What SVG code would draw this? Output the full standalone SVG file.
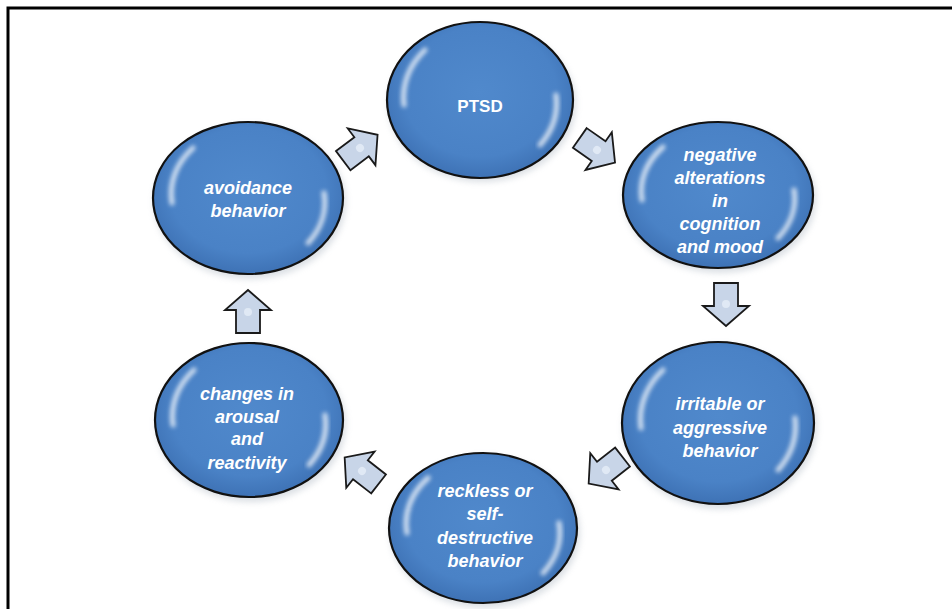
<svg xmlns="http://www.w3.org/2000/svg" width="952" height="609" viewBox="0 0 952 609">
<defs>
<radialGradient id="ball" cx="50%" cy="45%" r="55%">
<stop offset="0" stop-color="#5089cc"/>
<stop offset="0.75" stop-color="#4a82c6"/>
<stop offset="1" stop-color="#3e72b5"/>
</radialGradient>
<filter id="blur" x="-30%" y="-30%" width="160%" height="160%"><feGaussianBlur stdDeviation="2"/></filter>
<filter id="shadow" x="-20%" y="-20%" width="140%" height="140%"><feGaussianBlur stdDeviation="3"/></filter>
<path id="arrow" d="M-21,-12 L2,-12 L2,-23 L22,0 L2,23 L2,12 L-21,12 Z"/>
</defs>
<style>
.frame{stroke:#000;stroke-width:3;fill:none}
.ball{fill:url(#ball);stroke:#111;stroke-width:2.2}
.shade{fill:#9aa6b4;opacity:0.35}
.glint{fill:none;stroke:#ffffff;stroke-width:5;stroke-linecap:round;opacity:0.75}
.lbl{font-family:"Liberation Sans",Arial,sans-serif;font-size:18px;font-weight:bold;font-style:italic;fill:#ffffff;text-anchor:middle}
.ptsd{font-family:"Liberation Sans",Arial,sans-serif;font-size:17px;font-weight:bold;fill:#ffffff;text-anchor:middle}
.arr{fill:#c8d5e8;stroke:#1a1a1a;stroke-width:1.8;stroke-linejoin:miter}
.dot{fill:#e6edf7;opacity:0.8}
</style>
<rect width="952" height="609" fill="#ffffff"/>
<path class="frame" d="M8,609 L8,8 L952,8"/>

<g id="connectors">
<g transform="translate(360,148) rotate(-37)"><use href="#arrow" class="arr"/><circle r="4" class="dot"/></g>
<g transform="translate(597,150) rotate(35)"><use href="#arrow" class="arr"/><circle r="4" class="dot"/></g>
<g transform="translate(726,304) rotate(90)"><use href="#arrow" class="arr"/><circle r="4" class="dot"/></g>
<g transform="translate(606,470) rotate(142)"><use href="#arrow" class="arr"/><circle r="4" class="dot"/></g>
<g transform="translate(362,471) rotate(218)"><use href="#arrow" class="arr"/><circle r="4" class="dot"/></g>
<g transform="translate(248,312) rotate(-90)"><use href="#arrow" class="arr"/><circle r="4" class="dot"/></g>
</g>

<g id="node-ptsd">
<ellipse class="shade" cx="482" cy="104" rx="94" ry="78" filter="url(#shadow)"/>
<ellipse class="ball" cx="480" cy="100" rx="93" ry="78"/>
<path class="glint" filter="url(#blur)" d="M425,50 A82,70 0 0 0 404,105"/>
<path class="glint" filter="url(#blur)" d="M556,95 A82,70 0 0 1 540,145"/>
<text class="ptsd" x="480" y="112">PTSD</text>
</g>

<g id="node-negative">
<ellipse class="shade" cx="720" cy="199" rx="96" ry="74" filter="url(#shadow)"/>
<ellipse class="ball" cx="718" cy="195" rx="95" ry="73"/>
<path class="glint" filter="url(#blur)" d="M663,147 A84,66 0 0 0 642,200"/>
<path class="glint" filter="url(#blur)" d="M794,190 A84,66 0 0 1 778,238"/>
<text class="lbl" x="720" y="161">negative</text>
<text class="lbl" x="720" y="184">alterations</text>
<text class="lbl" x="720" y="207">in</text>
<text class="lbl" x="720" y="230">cognition</text>
<text class="lbl" x="720" y="253">and mood</text>
</g>

<g id="node-irritable">
<ellipse class="shade" cx="720" cy="427" rx="97" ry="82" filter="url(#shadow)"/>
<ellipse class="ball" cx="718" cy="423" rx="96" ry="81"/>
<path class="glint" filter="url(#blur)" d="M663,370 A85,73 0 0 0 641,428"/>
<path class="glint" filter="url(#blur)" d="M795,418 A85,73 0 0 1 778,470"/>
<text class="lbl" x="720" y="410">irritable or</text>
<text class="lbl" x="720" y="434">aggressive</text>
<text class="lbl" x="720" y="457">behavior</text>
</g>

<g id="node-reckless">
<ellipse class="shade" cx="485" cy="532" rx="95" ry="76" filter="url(#shadow)"/>
<ellipse class="ball" cx="483" cy="528" rx="94" ry="75"/>
<path class="glint" filter="url(#blur)" d="M428,478 A83,67 0 0 0 407,533"/>
<path class="glint" filter="url(#blur)" d="M559,523 A83,67 0 0 1 543,573"/>
<text class="lbl" x="485" y="497">reckless or</text>
<text class="lbl" x="485" y="520">self-</text>
<text class="lbl" x="485" y="544">destructive</text>
<text class="lbl" x="485" y="567">behavior</text>
</g>

<g id="node-changes">
<ellipse class="shade" cx="251" cy="424" rx="95" ry="78" filter="url(#shadow)"/>
<ellipse class="ball" cx="249" cy="420" rx="94" ry="77"/>
<path class="glint" filter="url(#blur)" d="M194,370 A83,69 0 0 0 173,425"/>
<path class="glint" filter="url(#blur)" d="M325,415 A83,69 0 0 1 309,465"/>
<text class="lbl" x="247" y="400">changes in</text>
<text class="lbl" x="247" y="423">arousal</text>
<text class="lbl" x="247" y="445">and</text>
<text class="lbl" x="247" y="469">reactivity</text>
</g>

<g id="node-avoidance">
<ellipse class="shade" cx="250" cy="202" rx="96" ry="77" filter="url(#shadow)"/>
<ellipse class="ball" cx="248" cy="198" rx="95" ry="76"/>
<path class="glint" filter="url(#blur)" d="M193,148 A84,68 0 0 0 172,203"/>
<path class="glint" filter="url(#blur)" d="M324,193 A84,68 0 0 1 308,243"/>
<text class="lbl" x="248" y="194">avoidance</text>
<text class="lbl" x="248" y="217">behavior</text>
</g>
</svg>
